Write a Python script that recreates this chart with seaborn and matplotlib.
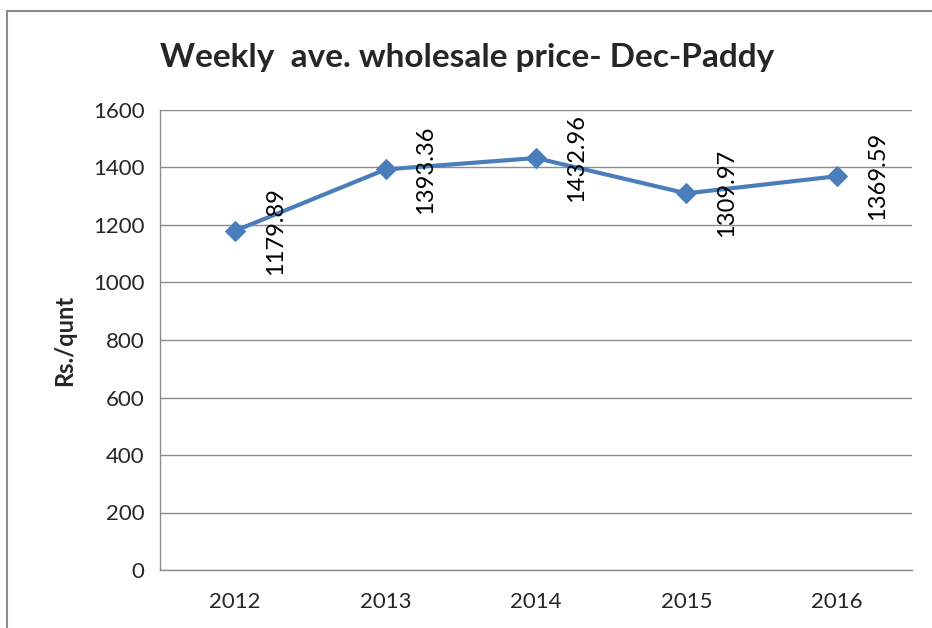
import pandas as pd
import matplotlib.pyplot as plt
import seaborn as sns
from matplotlib.patches import Rectangle

# Chart data
years = ['2012', '2013', '2014', '2015', '2016']
prices = [1179.89, 1393.36, 1432.96, 1309.97, 1369.59]
y_ticks = [0, 200, 400, 600, 800, 1000, 1200, 1400, 1600]

df = pd.DataFrame({'Year': years, 'Price': prices})
df['pos'] = range(len(years))

sns.set_theme(style='white')
plt.rcParams['font.family'] = ['Lato', 'DejaVu Sans']

fig = plt.figure(figsize=(9.32, 6.28), dpi=100)
ax = fig.add_axes([160 / 932, 1 - 570 / 628, 752 / 932, 460 / 628])

# Grey frame around the chart area (cropped on right/bottom like the original)
fig.patches.append(Rectangle((7 / 932, -0.05), 1.1, 1 - 11 / 628 + 0.05,
                             transform=fig.transFigure, fill=False,
                             edgecolor='#8c8c8c', linewidth=1.5))

line_color = '#4A7EBB'
sns.lineplot(data=df, x='pos', y='Price', ax=ax, color=line_color,
             linewidth=3, marker='D', markersize=10,
             markeredgecolor=line_color, markerfacecolor=line_color)

# Rotated data labels to the right of each point
for p, v in zip(df['pos'], df['Price']):
    ax.annotate(f'{v:.2f}', (p, v), xytext=(29, 0), textcoords='offset points',
                rotation=90, ha='center', va='center', fontsize=17,
                color='black')

ax.set_ylim(0, 1600)
ax.set_yticks(y_ticks)
ax.set_yticklabels([str(t) for t in y_ticks], fontsize=16)
ax.set_xlim(-0.5, len(years) - 0.5)
ax.set_xticks(df['pos'])
ax.set_xticklabels(years, fontsize=16)
ax.set_xticks([i - 0.5 for i in range(len(years) + 1)], minor=True)
ax.tick_params(axis='x', which='major', length=0, pad=16)
ax.tick_params(axis='x', which='minor', length=6, width=1, color='#8c8c8c', direction='out')
ax.tick_params(axis='y', length=5, width=1, color='#8c8c8c', direction='out', pad=6)

ax.yaxis.grid(True, color='#8c8c8c', linewidth=1)
ax.set_axisbelow(True)
for side in ['top', 'right']:
    ax.spines[side].set_visible(False)
for side in ['left', 'bottom']:
    ax.spines[side].set_color('#8c8c8c')
    ax.spines[side].set_linewidth(1)

ax.set_xlabel('')
ax.set_ylabel('Rs./qunt', fontsize=17, fontweight='bold', labelpad=12)

fig.text(160 / 932, 1 - 57 / 628, 'Weekly  ave. wholesale price- Dec-Paddy',
         fontsize=24, fontweight='bold', ha='left', va='center')

plt.savefig('out.png', dpi=100)
